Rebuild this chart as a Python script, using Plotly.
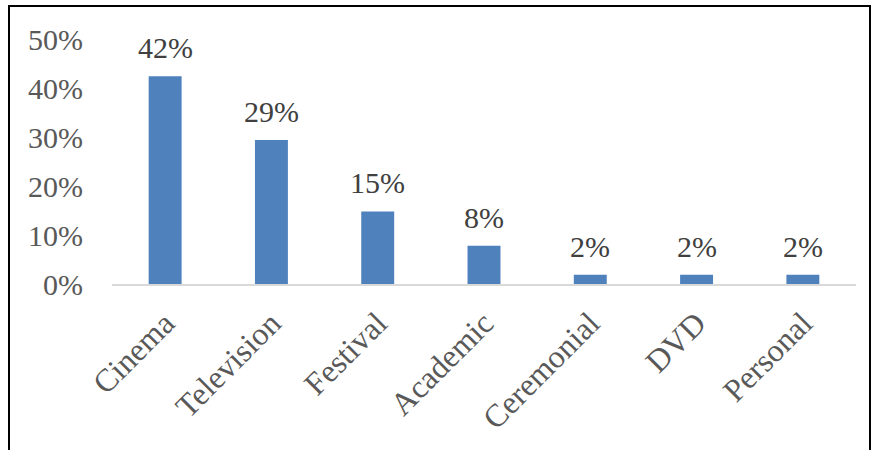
import plotly.graph_objects as go

categories = ["Cinema", "Television", "Festival", "Academic", "Ceremonial", "DVD", "Personal"]
values = [0.424, 0.294, 0.148, 0.078, 0.019, 0.019, 0.019]
y_ticks = [0, 0.1, 0.2, 0.3, 0.4, 0.5]
y_tick_labels = ["0%", "10%", "20%", "30%", "40%", "50%"]

W, H = 876, 450
L, R, T, B = 112, 20, 39, 166
pw, ph = W - L - R, H - T - B

def px_x(x):
    return (x - L) / pw

def px_y(y):
    return (H - B - y) / ph

FONT = "Liberation Serif, Times New Roman, serif"

fig = go.Figure()
fig.add_trace(go.Bar(
    x=categories, y=values,
    marker=dict(color="#4F81BD", line=dict(width=0)),
    width=0.31,
    hoverinfo="skip",
))

for c, v in zip(categories, values):
    fig.add_annotation(
        x=c, y=v, text=f"{round(v * 100)}%", showarrow=False,
        yanchor="bottom", yshift=10,
        font=dict(family=FONT, size=30, color="#404040"),
    )

# outer border
fig.add_shape(type="rect", xref="paper", yref="paper",
              x0=px_x(9), x1=px_x(870), y0=px_y(470), y1=px_y(6),
              line=dict(color="black", width=2), fillcolor="rgba(0,0,0,0)")

fig.update_layout(
    width=W, height=H,
    margin=dict(l=L, r=R, t=T, b=B, autoexpand=False),
    paper_bgcolor="white", plot_bgcolor="white",
    showlegend=False,
    font=dict(family=FONT, size=30, color="#595959"),
    xaxis=dict(
        showline=True, linecolor="#D9D9D9", linewidth=1.5,
        showgrid=False, ticks="", tickangle=-45,
        ticklabelstandoff=6,
        tickfont=dict(family=FONT, size=32, color="#595959"),
        fixedrange=True,
    ),
    yaxis=dict(
        range=[0, 0.5], tickvals=y_ticks, ticktext=y_tick_labels,
        showgrid=False, zeroline=False, showline=False, ticks="",
        ticklabelstandoff=28,
        tickfont=dict(family=FONT, size=30, color="#595959"),
        fixedrange=True,
    ),
)

fig.write_html(
    "out.html",
    config={"displayModeBar": False},
    post_script="document.body.style.margin='0';document.body.style.overflow='hidden';",
)
